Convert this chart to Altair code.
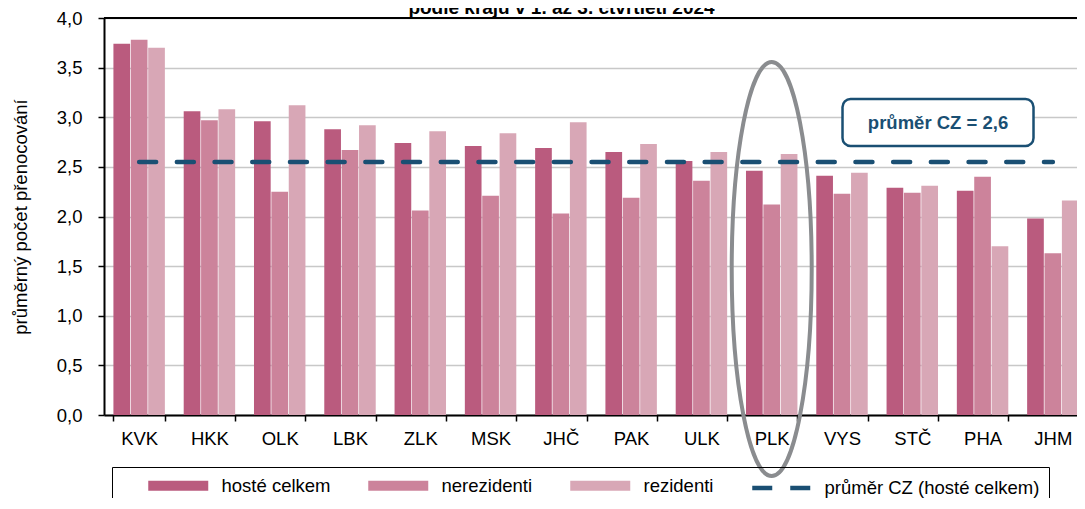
import altair as alt
import pandas as pd

# ---- data ----
KRAJE = ["KVK", "HKK", "OLK", "LBK", "ZLK", "MSK", "JHČ", "PAK", "ULK", "PLK", "VYS", "STČ", "PHA", "JHM"]
HOSTE_CELKEM = [3.74, 3.06, 2.96, 2.88, 2.74, 2.71, 2.69, 2.65, 2.56, 2.46, 2.41, 2.29, 2.26, 1.98]
NEREZIDENTI = [3.78, 2.97, 2.25, 2.67, 2.06, 2.21, 2.03, 2.19, 2.36, 2.12, 2.23, 2.24, 2.40, 1.63]
REZIDENTI = [3.70, 3.08, 3.12, 2.92, 2.86, 2.84, 2.95, 2.73, 2.65, 2.63, 2.44, 2.31, 1.70, 2.16]
SERIES = ["hosté celkem", "nerezidenti", "rezidenti"]
LINE_LABEL = "průměr CZ (hosté celkem)"
PRUMER_CZ = 2.55
Y_TICKS = [0.0, 0.5, 1.0, 1.5, 2.0, 2.5, 3.0, 3.5, 4.0]
Y_TITLE = "průměrný počet přenocování"
TITLE = "podle krajů v 1. až 3. čtvrtletí 2024"
ANNOT_TEXT = "průměr CZ = 2,6"
ANNOT_KRAJ = ["STČ"]
ANNOT_VALUE = [2.947]
HIGHLIGHT_KRAJ = ["PLK"]
HIGHLIGHT_VALUE = [1.47]

COLORS = ["#BA5B7E", "#CC839B", "#D8A7B6"]
LINE_COLOR = "#1A4F73"
FONT = "Liberation Sans"
FS = 18.5

rows = []
for i, k in enumerate(KRAJE):
    for s, vals in zip(SERIES, [HOSTE_CELKEM, NEREZIDENTI, REZIDENTI]):
        rows.append({"kraj": k, "serie": s, "hodnota": vals[i]})
df = pd.DataFrame(rows)
line_df = pd.DataFrame({"kraj": [KRAJE[0], KRAJE[-1]], "hodnota": [PRUMER_CZ, PRUMER_CZ]})
top_df = pd.DataFrame({"hodnota": [Y_TICKS[-1]]})
ann_df = pd.DataFrame({"kraj": ANNOT_KRAJ, "hodnota": ANNOT_VALUE})
hl_df = pd.DataFrame({"kraj": HIGHLIGHT_KRAJ, "hodnota": HIGHLIGHT_VALUE})

xscale = alt.Scale(type="band", domain=KRAJE, range=[0, 984], paddingInner=0.268, paddingOuter=0.134)
yscale = alt.Scale(domain=[0, 4], nice=False, zero=True)

xaxis = alt.Axis(
    title=None, tickBand="extent", labelAngle=0, labelFontSize=FS, labelColor="#000",
    labelFont=FONT, domainColor="#000", domainWidth=2, tickColor="#000", tickSize=6,
    tickWidth=1.5, labelPadding=8, grid=False,
)
yaxis = alt.Axis(
    values=Y_TICKS, labelExpr="replace(format(datum.value, '.1f'), '.', ',')",
    grid=True, gridColor="#C8C8C8", gridWidth=1.5, domainColor="#000", domainWidth=2,
    tickColor="#000", tickSize=6, tickWidth=1.5, labelFontSize=FS, labelFont=FONT,
    labelPadding=16, labelColor="#000", titleFontSize=FS, titleFont=FONT,
    titleFontWeight="normal", titleColor="#000", titlePadding=26,
)

RECT_PATH = "M-6,-1H6V1H-6Z"
DASH_PATH = "M-5.8,0H-1.8M1.8,0H5.8"

legend = alt.Legend(
    title=None, orient="none", legendX=8, legendY=449, direction="horizontal",
    symbolType={"expr": f"datum.value == '{LINE_LABEL}' ? '{DASH_PATH}' : '{RECT_PATH}'"},
    symbolStrokeColor={"expr": f"datum.value == '{LINE_LABEL}' ? '{LINE_COLOR}' : 'transparent'"},
    symbolSize=100, symbolStrokeWidth=4.5, labelFontSize=FS, labelFont=FONT,
    labelColor="#000", strokeColor="#000", padding=9, columnPadding=10,
    symbolOffset=48, labelOffset=34, labelLimit=500,
)

bars = alt.Chart(df).mark_bar().encode(
    x=alt.X("kraj:N", scale=xscale, axis=xaxis, sort=None),
    xOffset=alt.XOffset("serie:N", scale=alt.Scale(domain=SERIES, paddingInner=0.04)),
    y=alt.Y("hodnota:Q", scale=yscale, axis=yaxis, title=Y_TITLE),
    color=alt.Color("serie:N", scale=alt.Scale(domain=SERIES + [LINE_LABEL], range=COLORS + [LINE_COLOR]),
                    legend=legend),
)

top_rule = alt.Chart(top_df).mark_rule(color="#000", strokeWidth=2).encode(
    y=alt.Y("hodnota:Q", scale=yscale, title=Y_TITLE),
)

avg_line = alt.Chart(line_df).mark_line(
    color=LINE_COLOR, strokeWidth=4.5, strokeDash=[17, 20.7], strokeCap="round"
).encode(
    x=alt.X("kraj:N", scale=xscale, bandPosition=0.5, sort=None),
    y=alt.Y("hodnota:Q", scale=yscale, title=Y_TITLE),
)

ELLIPSE_PATH = "M0,-4.14A0.8,4.14 0 1,1 0,4.14A0.8,4.14 0 1,1 0,-4.14Z"
ellipse = alt.Chart(hl_df).mark_point(
    shape=ELLIPSE_PATH, size=10000, filled=False, stroke="#8A8C8F", strokeWidth=4, opacity=1
).encode(
    x=alt.X("kraj:N", scale=xscale, bandPosition=0.5, sort=None),
    y=alt.Y("hodnota:Q", scale=yscale, title=Y_TITLE),
)

BOX_PATH = ("M-1.75,-0.47H1.75A0.16,0.16 0 0 1 1.91,-0.31V0.31A0.16,0.16 0 0 1 1.75,0.47"
            "H-1.75A0.16,0.16 0 0 1 -1.91,0.31V-0.31A0.16,0.16 0 0 1 -1.75,-0.47Z")
box = alt.Chart(ann_df).mark_point(
    shape=BOX_PATH, size=10000, filled=True, fill="white", stroke=LINE_COLOR, strokeWidth=2.5, opacity=1
).encode(
    x=alt.X("kraj:N", scale=xscale, bandPosition=1.0, sort=None),
    y=alt.Y("hodnota:Q", scale=yscale, title=Y_TITLE),
)
box_text = alt.Chart(ann_df).mark_text(
    text=ANNOT_TEXT, font=FONT, fontSize=FS, fontWeight="bold", color=LINE_COLOR,
    align="center", baseline="middle",
).encode(
    x=alt.X("kraj:N", scale=xscale, bandPosition=1.0, sort=None),
    y=alt.Y("hodnota:Q", scale=yscale, title=Y_TITLE),
)

chart = alt.layer(bars, top_rule, avg_line, ellipse, box, box_text).properties(
    width=973, height=397,
    autosize=alt.AutoSizeParams(type="none"),
    padding={"left": 96, "top": 10, "right": 0, "bottom": 83},
    title=alt.TitleParams(TITLE, fontSize=19, fontWeight="bold", color="#000", font=FONT,
                          anchor="middle", offset=-9, dx=-29),
).configure(font=FONT).configure_view(stroke=None)

chart.save("out.html", embed_options={"renderer": "svg", "actions": False})
